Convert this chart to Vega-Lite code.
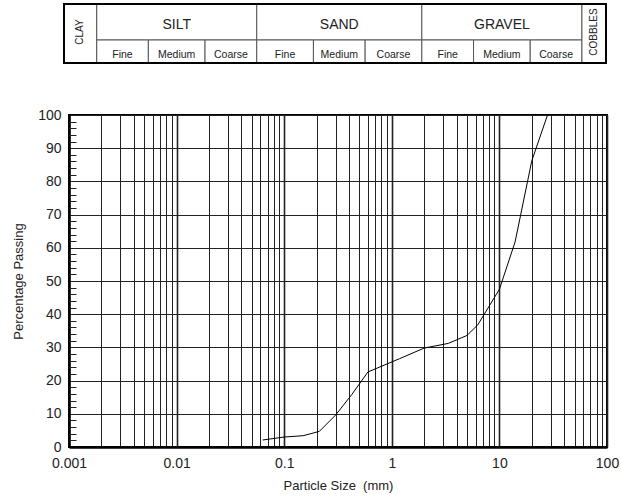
{
  "$schema": "https://vega.github.io/schema/vega-lite/v6.json",
  "padding": {"left": 11, "top": 3, "right": 0, "bottom": 2},
  "spacing": 43,
  "background": "white",
  "config": {"font": "Liberation Sans", "view": {"stroke": null}},
  "datasets": {
    "classes": [
      {"name": "CLAY", "lo": 0.001, "hi": 0.002, "tier": "full"},
      {"name": "SILT", "lo": 0.002, "hi": 0.06, "tier": "main"},
      {"name": "SAND", "lo": 0.06, "hi": 2, "tier": "main"},
      {"name": "GRAVEL", "lo": 2, "hi": 60, "tier": "main"},
      {"name": "COBBLES", "lo": 60, "hi": 100, "tier": "full"},
      {"name": "Fine", "lo": 0.002, "hi": 0.006, "tier": "sub"},
      {"name": "Medium", "lo": 0.006, "hi": 0.02, "tier": "sub"},
      {"name": "Coarse", "lo": 0.02, "hi": 0.06, "tier": "sub"},
      {"name": "Fine", "lo": 0.06, "hi": 0.2, "tier": "sub"},
      {"name": "Medium", "lo": 0.2, "hi": 0.6, "tier": "sub"},
      {"name": "Coarse", "lo": 0.6, "hi": 2, "tier": "sub"},
      {"name": "Fine", "lo": 2, "hi": 6, "tier": "sub"},
      {"name": "Medium", "lo": 6, "hi": 20, "tier": "sub"},
      {"name": "Coarse", "lo": 20, "hi": 60, "tier": "sub"}
    ],
    "grading": [
      {"size": 0.063, "passing": 2.1},
      {"size": 0.1, "passing": 3.0},
      {"size": 0.15, "passing": 3.4},
      {"size": 0.212, "passing": 4.7},
      {"size": 0.3, "passing": 9.6},
      {"size": 0.425, "passing": 15.8},
      {"size": 0.6, "passing": 22.6},
      {"size": 1.18, "passing": 26.6},
      {"size": 2, "passing": 29.8},
      {"size": 3.35, "passing": 31.2},
      {"size": 5, "passing": 33.6},
      {"size": 6.3, "passing": 36.8},
      {"size": 10, "passing": 47.5},
      {"size": 14, "passing": 61.8},
      {"size": 20, "passing": 86.2},
      {"size": 28, "passing": 100}
    ]
  },
  "vconcat": [
    {
      "width": 538,
      "height": 59,
      "data": {"name": "classes"},
      "transform": [{"calculate": "sqrt(datum.lo * datum.hi)", "as": "mid"}],
      "layer": [
        {
          "transform": [{"filter": "datum.tier === 'main'"}],
          "mark": {"type": "rect", "fill": "white", "stroke": "#555", "strokeWidth": 1},
          "encoding": {
            "x": {"field": "lo", "type": "quantitative", "scale": {"type": "log", "domain": [0.001, 100], "range": [-5, 537]}, "axis": null},
            "x2": {"field": "hi"},
            "y": {"value": 0},
            "y2": {"value": 36}
          }
        },
        {
          "transform": [{"filter": "datum.tier === 'sub'"}],
          "mark": {"type": "rect", "fill": "white", "stroke": "#555", "strokeWidth": 1},
          "encoding": {
            "x": {"field": "lo", "type": "quantitative", "axis": null},
            "x2": {"field": "hi"},
            "y": {"value": 36},
            "y2": {"value": 59}
          }
        },
        {
          "transform": [{"filter": "datum.tier === 'full'"}],
          "mark": {"type": "rect", "fill": "white", "stroke": "#555", "strokeWidth": 1},
          "encoding": {
            "x": {"field": "lo", "type": "quantitative", "axis": null},
            "x2": {"field": "hi"},
            "y": {"value": 0},
            "y2": {"value": 59}
          }
        },
        {
          "data": {"values": [{}]},
          "mark": {"type": "rect", "fillOpacity": 0, "stroke": "black", "strokeWidth": 2},
          "encoding": {
            "x": {"datum": 0.001, "type": "quantitative", "axis": null},
            "x2": {"datum": 100},
            "y": {"value": 0},
            "y2": {"value": 59}
          }
        },
        {
          "transform": [{"filter": "datum.tier === 'main'"}],
          "mark": {"type": "text", "fontSize": 14, "align": "center", "baseline": "middle", "color": "#222"},
          "encoding": {
            "x": {"field": "mid", "type": "quantitative", "axis": null},
            "y": {"value": 20.5},
            "text": {"field": "name"}
          }
        },
        {
          "transform": [{"filter": "datum.tier === 'sub'"}],
          "mark": {"type": "text", "fontSize": 10.5, "align": "center", "baseline": "middle", "color": "#222"},
          "encoding": {
            "x": {"field": "mid", "type": "quantitative", "axis": null},
            "y": {"value": 50.5},
            "text": {"field": "name"}
          }
        },
        {
          "transform": [{"filter": "datum.tier === 'full'"}],
          "mark": {"type": "text", "fontSize": 10, "angle": 270, "align": "center", "baseline": "middle", "color": "#222"},
          "encoding": {
            "x": {"field": "mid", "type": "quantitative", "axis": null},
            "y": {"value": 28},
            "text": {"field": "name"}
          }
        }
      ]
    },
    {
      "width": 538,
      "height": 332,
      "view": {"stroke": "black", "strokeWidth": 2},
      "data": {"name": "grading"},
      "layer": [
        {
          "mark": {"type": "line", "color": "black", "strokeWidth": 1},
          "encoding": {
            "x": {
              "field": "size",
              "type": "quantitative",
              "scale": {"type": "log", "domain": [0.001, 100]},
              "axis": {
                "values": [0.001, 0.002, 0.003, 0.004, 0.005, 0.006, 0.007, 0.008, 0.009, 0.01, 0.02, 0.03, 0.04, 0.05, 0.06, 0.07, 0.08, 0.09, 0.1, 0.2, 0.3, 0.4, 0.5, 0.6, 0.7, 0.8, 0.9, 1, 2, 3, 4, 5, 6, 7, 8, 9, 10, 20, 30, 40, 50, 60, 70, 80, 90, 100],
                "format": "~g",
                "labelExpr": "indexof([0.001, 0.01, 0.1, 1, 10, 100], datum.value) >= 0 ? datum.label : ''",
                "labelOverlap": false,
                "labelFlush": false,
                "labelBound": false,
                "labelFontSize": 14,
                "labelColor": "#222",
                "labelPadding": 9,
                "ticks": false,
                "domain": true,
                "domainColor": "black",
                "domainWidth": 2.5,
                "grid": true,
                "gridColor": "#222",
                "gridOpacity": 1,
                "gridWidth": {"condition": {"test": "indexof([0.001, 0.01, 0.1, 1, 10, 100], datum.value) >= 0", "value": 1.6}, "value": 1},
                "title": "Particle Size \u00a0(mm)",
                "titleFontSize": 13,
                "titleFontWeight": "normal",
                "titleColor": "#222",
                "titlePadding": 9
              }
            },
            "y": {
              "field": "passing",
              "type": "quantitative",
              "scale": {"domain": [0, 100]},
              "axis": {
                "values": [0, 10, 20, 30, 40, 50, 60, 70, 80, 90, 100],
                "labelFontSize": 14,
                "labelColor": "#222",
                "labelPadding": 8,
                "labelFlush": false,
                "ticks": false,
                "domain": true,
                "domainColor": "black",
                "domainWidth": 2.5,
                "grid": true,
                "gridColor": "#222",
                "gridOpacity": 1,
                "gridWidth": 1,
                "title": "Percentage Passing",
                "titleFontSize": 13,
                "titleFontWeight": "normal",
                "titleColor": "#222",
                "titlePadding": 12
              }
            }
          }
        },
        {
          "mark": {"type": "line", "opacity": 0},
          "encoding": {
            "x": {"field": "size", "type": "quantitative"},
            "y": {
              "field": "passing",
              "type": "quantitative",
              "axis": {
                "orient": "left",
                "offset": -7,
                "values": [2, 4, 6, 8, 12, 14, 16, 18, 22, 24, 26, 28, 32, 34, 36, 38, 42, 44, 46, 48, 52, 54, 56, 58, 62, 64, 66, 68, 72, 74, 76, 78, 82, 84, 86, 88, 92, 94, 96, 98],
                "tickSize": 7,
                "tickColor": "#222",
                "tickWidth": 1,
                "labels": false,
                "domain": false,
                "grid": false,
                "title": null
              }
            }
          }
        }
      ],
      "resolve": {"axis": {"y": "independent"}}
    }
  ]
}
